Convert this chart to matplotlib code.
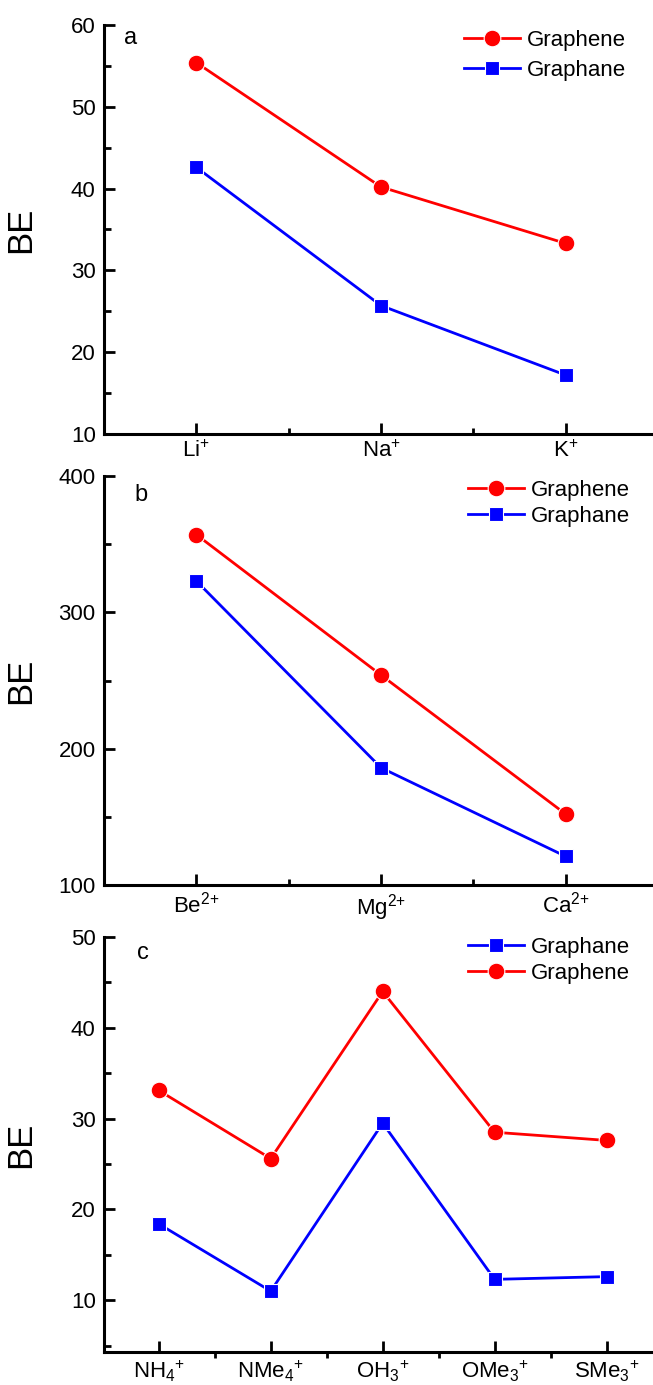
import matplotlib
matplotlib.use("Agg")
import matplotlib.pyplot as plt
from matplotlib.ticker import MultipleLocator, FixedLocator

plt.rcParams['font.family'] = ['Liberation Sans', 'DejaVu Sans']
plt.rcParams['mathtext.fontset'] = 'custom'
plt.rcParams['mathtext.rm'] = 'Liberation Sans'
plt.rcParams['mathtext.it'] = 'Liberation Sans'
plt.rcParams['mathtext.default'] = 'rm'

# panel a: alkali metal cations
ions_a = [r'Li$^{+}$', r'Na$^{+}$', r'K$^{+}$']
graphene_a = [55.4, 40.2, 33.3]
graphane_a = [42.6, 25.7, 17.2]

# panel b: alkaline earth cations
ions_b = [r'Be$^{\text{2+}}$', r'Mg$^{\text{2+}}$', r'Ca$^{\text{2+}}$']
graphene_b = [357, 254, 152]
graphane_b = [323, 186, 121]

# panel c: molecular cations
ions_c = [r'NH$_4$$^{+}$', r'NMe$_4$$^{+}$', r'OH$_3$$^{+}$', r'OMe$_3$$^{+}$', r'SMe$_3$$^{+}$']
graphene_c = [33.1, 25.6, 44.0, 28.5, 27.6]
graphane_c = [18.4, 11.0, 29.5, 12.3, 12.6]

W, H = 653, 1385
fig = plt.figure(figsize=(W / 100, H / 100), dpi=100)
LEFT = 104


def box(top, bottom, left=LEFT, right=658):
    return [left / W, 1 - bottom / H, (right - left) / W, (bottom - top) / H]


def style(ax, ylim, major, minor, labels, xlim, minor_dir='in'):
    ax.set_ylim(*ylim)
    ax.set_xlim(*xlim)
    for s in ['top', 'right']:
        ax.spines[s].set_visible(False)
    for s in ['left', 'bottom']:
        ax.spines[s].set_linewidth(2.2)
    ax.yaxis.set_major_locator(MultipleLocator(major))
    ax.yaxis.set_minor_locator(MultipleLocator(minor))
    n = len(labels)
    ax.set_xticks(range(1, n + 1))
    ax.set_xticklabels(labels)
    ax.xaxis.set_minor_locator(FixedLocator([i + 0.5 for i in range(1, n)]))
    ax.tick_params(axis='y', which='major', direction='in', length=8, width=2, labelsize=16, pad=6)
    ax.tick_params(axis='y', which='minor', direction='in', length=5, width=2)
    ax.tick_params(axis='x', which='major', direction='in', length=8, width=2, labelsize=16, pad=5)
    ax.tick_params(axis='x', which='minor', direction=minor_dir, length=4, width=2)
    ax.set_ylabel('BE', fontsize=25)
    ax.yaxis.set_label_coords((37 - LEFT) / (658 - LEFT), 0.5)


def draw(ax, x, y, color, marker, ms, label):
    ax.plot(x, y, color=color, lw=2.0, marker=marker, ms=ms,
            mec='white', mew=0.8, label=label, clip_on=False)


def legend(ax, left, top, spacing):
    ax.legend(loc='upper left', bbox_to_anchor=(left / W, 1 - top / H), bbox_transform=fig.transFigure,
              frameon=False, fontsize=16, handlelength=2.5, handletextpad=0.35, borderpad=0,
              labelspacing=spacing, borderaxespad=0)


# panel a
ax_a = fig.add_axes(box(25, 434))
xa = range(1, len(ions_a) + 1)
draw(ax_a, xa, graphene_a, 'red', 'o', 12, 'Graphene')
draw(ax_a, xa, graphane_a, 'blue', 's', 10, 'Graphane')
style(ax_a, (10, 60), 10, 5, ions_a, (0.5, 3.5))
ax_a.text(124 / W, 1 - 38 / H, 'a', transform=fig.transFigure, fontsize=17, va='center')
legend(ax_a, 464, 30, 0.4)

# panel b
ax_b = fig.add_axes(box(476, 885))
xb = range(1, len(ions_b) + 1)
draw(ax_b, xb, graphene_b, 'red', 'o', 12, 'Graphene')
draw(ax_b, xb, graphane_b, 'blue', 's', 10, 'Graphane')
style(ax_b, (100, 400), 100, 50, ions_b, (0.5, 3.5))
ax_b.text(134 / W, 1 - 495 / H, 'b', transform=fig.transFigure, fontsize=17, va='center')
legend(ax_b, 468, 480, 0.22)

# panel c
ax_c = fig.add_axes(box(937, 1352))
xc = range(1, len(ions_c) + 1)
draw(ax_c, xc, graphane_c, 'blue', 's', 10, 'Graphane')
draw(ax_c, xc, graphene_c, 'red', 'o', 12, 'Graphene')
style(ax_c, (4.3, 50), 10, 5, ions_c, (0.51, 5.46), minor_dir='out')
ax_c.text(137 / W, 1 - 953 / H, 'c', transform=fig.transFigure, fontsize=17, va='center')
legend(ax_c, 468, 937, 0.22)

fig.savefig('out.png', dpi=100)
